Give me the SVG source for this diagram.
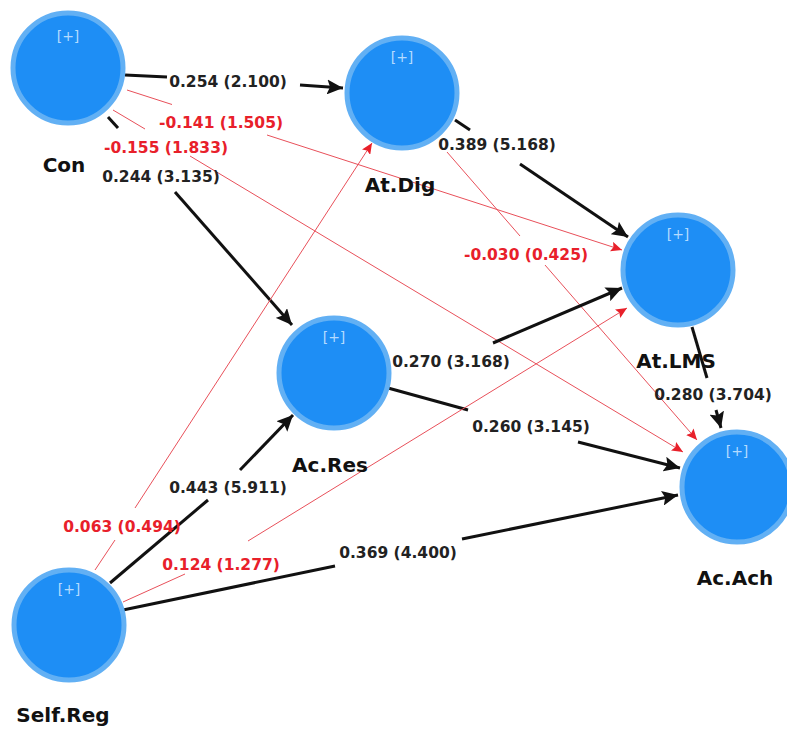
<svg xmlns="http://www.w3.org/2000/svg" width="787" height="729" viewBox="0 0 787 729">
<defs>
<style>
.nd{fill:#1e8ef5;stroke:#62b0f4;stroke-width:5}
.pl{font-family:"DejaVu Sans",Verdana,sans-serif;font-size:14px;fill:#b4dbff;text-anchor:middle}
.nm{font-family:"DejaVu Sans",Verdana,sans-serif;font-size:20px;font-weight:bold;fill:#111;text-anchor:middle}
.lb{font-family:"DejaVu Sans",Verdana,sans-serif;font-size:15.5px;font-weight:bold;fill:#222;text-anchor:middle}
.lr{font-family:"DejaVu Sans",Verdana,sans-serif;font-size:15.5px;font-weight:bold;fill:#e8202a;text-anchor:middle}
.k{stroke:#111;stroke-width:3;fill:none}
.r{stroke:#e8505a;stroke-width:1;fill:none}
.ka{stroke:#111;stroke-width:3;fill:none;marker-end:url(#ab)}
.ra{stroke:#e8505a;stroke-width:1;fill:none;marker-end:url(#ar)}
</style>
<marker id="ab" markerUnits="userSpaceOnUse" markerWidth="17" markerHeight="15" refX="16" refY="7.5" orient="auto"><path d="M0,0 L16,7.5 L0,15 L3,7.5 z" fill="#111"/></marker>
<marker id="ar" markerUnits="userSpaceOnUse" markerWidth="12" markerHeight="10" refX="11" refY="5" orient="auto"><path d="M0,0 L11,5 L0,10 L2,5 z" fill="#e8202a"/></marker>
</defs>
<rect width="787" height="729" fill="#fff"/>
<g id="connectors">
<line class="k" x1="125" y1="75" x2="167" y2="77"/>
<line class="ka" x1="300" y1="85" x2="343" y2="88"/>
<text class="lb" x="228" y="87">0.254 (2.100)</text>
<line class="r" x1="127" y1="90" x2="172" y2="104.5"/>
<line class="ra" x1="267" y1="135" x2="622" y2="250"/>
<text class="lr" x="221" y="128">-0.141 (1.505)</text>
<line class="r" x1="113" y1="110" x2="145" y2="129"/>
<line class="ra" x1="190" y1="156" x2="683" y2="452"/>
<text class="lr" x="166" y="153">-0.155 (1.833)</text>
<line class="k" x1="108" y1="117" x2="118" y2="128"/>
<line class="ka" x1="175" y1="192" x2="292" y2="325"/>
<text class="lb" x="161" y="182">0.244 (3.135)</text>
<line class="k" x1="455" y1="120" x2="470" y2="130"/>
<line class="ka" x1="520" y1="164" x2="628" y2="237"/>
<text class="lb" x="497" y="150">0.389 (5.168)</text>
<line class="r" x1="447" y1="152" x2="520" y2="236"/>
<line class="ra" x1="545" y1="265" x2="697" y2="440"/>
<text class="lr" x="526" y="260">-0.030 (0.425)</text>
<line class="k" x1="692" y1="327" x2="707" y2="378"/>
<line class="ka" x1="716" y1="410" x2="721" y2="428"/>
<text class="lb" x="713" y="400">0.280 (3.704)</text>
<line class="ka" x1="493" y1="343" x2="622" y2="288"/>
<text class="lb" x="451" y="367">0.270 (3.168)</text>
<line class="k" x1="388" y1="388" x2="468" y2="410"/>
<line class="ka" x1="578" y1="442" x2="680" y2="468"/>
<text class="lb" x="531" y="432">0.260 (3.145)</text>
<line class="k" x1="110" y1="583" x2="208" y2="500"/>
<line class="ka" x1="240" y1="470" x2="293" y2="415"/>
<text class="lb" x="228" y="493">0.443 (5.911)</text>
<line class="r" x1="95" y1="570" x2="115" y2="540"/>
<line class="ra" x1="135" y1="508" x2="372" y2="143"/>
<text class="lr" x="122" y="532">0.063 (0.494)</text>
<line class="r" x1="123" y1="602" x2="185" y2="574"/>
<line class="ra" x1="248" y1="541" x2="627" y2="308"/>
<text class="lr" x="221" y="570">0.124 (1.277)</text>
<line class="k" x1="123" y1="610" x2="335" y2="566"/>
<line class="ka" x1="462" y1="539" x2="678" y2="495"/>
<text class="lb" x="398" y="558">0.369 (4.400)</text>
</g>
<g id="Con">
<circle class="nd" cx="68" cy="68" r="55"/>
<text class="pl" x="68" y="41">[+]</text>
<text class="nm" x="64" y="172">Con</text>
</g>
<g id="At.Dig">
<circle class="nd" cx="402" cy="93" r="55"/>
<text class="pl" x="402" y="62">[+]</text>
<text class="nm" x="400" y="192">At.Dig</text>
</g>
<g id="At.LMS">
<circle class="nd" cx="678" cy="270" r="55"/>
<text class="pl" x="678" y="239">[+]</text>
<text class="nm" x="676" y="368">At.LMS</text>
</g>
<g id="Ac.Res">
<circle class="nd" cx="334" cy="373" r="55"/>
<text class="pl" x="334" y="342">[+]</text>
<text class="nm" x="330" y="472">Ac.Res</text>
</g>
<g id="Self.Reg">
<circle class="nd" cx="69" cy="625" r="55"/>
<text class="pl" x="69" y="594">[+]</text>
<text class="nm" x="63" y="722">Self.Reg</text>
</g>
<g id="Ac.Ach">
<circle class="nd" cx="737" cy="487" r="55"/>
<text class="pl" x="737" y="456">[+]</text>
<text class="nm" x="735" y="585">Ac.Ach</text>
</g>
</svg>
